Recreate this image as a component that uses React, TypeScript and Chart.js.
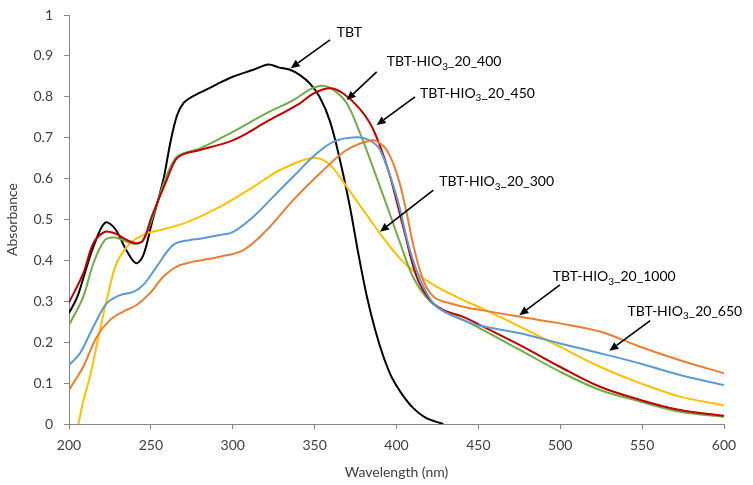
import React, { useEffect, useRef } from "react";
import { Chart, registerables } from "chart.js";
Chart.register(...registerables);

// ---- Data (wavelength nm / absorbance) ----
const tbtNm = [200, 205, 209, 215, 222, 228, 235, 241, 245.4, 250.5, 257.6, 262, 266, 270, 275, 280, 290, 300, 312.6, 321.7, 328, 335, 341, 347, 353, 359.4, 365.5, 371.6, 377, 382, 387, 392, 397, 403, 410, 418, 428.6];
const tbtAbs = [0.271, 0.31, 0.36, 0.434, 0.492, 0.478, 0.425, 0.393, 0.413, 0.49, 0.597, 0.69, 0.755, 0.785, 0.8, 0.81, 0.83, 0.849, 0.866, 0.879, 0.872, 0.866, 0.853, 0.833, 0.8, 0.74, 0.645, 0.53, 0.41, 0.31, 0.23, 0.165, 0.115, 0.075, 0.04, 0.015, 0];

const s300Nm = [205.7, 209, 212.8, 218.9, 224, 229.1, 237.3, 247.5, 255.6, 269.8, 280, 292.2, 296.3, 312.6, 328.9, 347.2, 355.3, 361.4, 369.6, 379.7, 384, 390, 402, 412.3, 424.5, 440.8, 451, 475.4, 499.8, 524.3, 548.7, 573.1, 600];
const s300Abs = [0, 0.06, 0.116, 0.23, 0.32, 0.393, 0.442, 0.466, 0.474, 0.49, 0.507, 0.531, 0.54, 0.58, 0.621, 0.65, 0.645, 0.625, 0.58, 0.523, 0.499, 0.465, 0.405, 0.368, 0.336, 0.303, 0.285, 0.238, 0.189, 0.14, 0.1, 0.067, 0.046];

const s400Nm = [200, 208.7, 214.9, 222, 228, 235.2, 241, 245.4, 250.5, 258.6, 265, 270, 280, 300.3, 320.7, 337, 347.2, 354.3, 361.4, 369.6, 377.7, 384, 394, 402, 410, 418, 427, 441, 451, 475.4, 499.8, 524.3, 548.7, 573.1, 600];
const s400Abs = [0.242, 0.311, 0.393, 0.45, 0.456, 0.446, 0.44, 0.45, 0.499, 0.597, 0.65, 0.662, 0.674, 0.715, 0.76, 0.792, 0.818, 0.827, 0.817, 0.784, 0.711, 0.645, 0.535, 0.445, 0.36, 0.311, 0.28, 0.254, 0.234, 0.181, 0.128, 0.083, 0.055, 0.03, 0.018];

const s450Nm = [200, 208.7, 214.9, 222, 228, 235.2, 241, 245.4, 250.5, 259.7, 265, 270, 280, 300.3, 320.7, 341, 349.2, 359.4, 367.5, 377.7, 385.8, 395, 404.2, 412.3, 420.5, 428.6, 440.8, 451, 475.4, 499.8, 524.3, 548.7, 573.1, 600];
const s450Abs = [0.297, 0.368, 0.442, 0.47, 0.466, 0.45, 0.442, 0.45, 0.507, 0.597, 0.645, 0.66, 0.67, 0.694, 0.739, 0.784, 0.808, 0.821, 0.808, 0.77, 0.72, 0.62, 0.48, 0.36, 0.303, 0.279, 0.262, 0.242, 0.193, 0.14, 0.091, 0.059, 0.034, 0.02];

const s650Nm = [200, 206.7, 214.9, 223, 231.1, 239.3, 245.4, 253.6, 263.7, 273.9, 280, 292.2, 300.3, 312.6, 324.8, 337, 349.2, 361.4, 375.7, 383.8, 390, 400.1, 408.2, 416.4, 424.5, 440.8, 451, 475.4, 499.8, 524.3, 548.7, 573.1, 600];
const s650Abs = [0.144, 0.173, 0.238, 0.295, 0.315, 0.323, 0.34, 0.385, 0.438, 0.45, 0.453, 0.462, 0.47, 0.507, 0.556, 0.605, 0.654, 0.69, 0.701, 0.693, 0.67, 0.556, 0.425, 0.336, 0.287, 0.254, 0.24, 0.222, 0.197, 0.173, 0.148, 0.12, 0.095];

const s1000Nm = [200, 208.7, 216.9, 225, 233.2, 241.3, 249.5, 257.6, 265.8, 275.9, 280, 292.2, 306.5, 320.7, 337, 353.3, 369.6, 385, 390, 394, 398, 402, 406, 410, 414, 418, 423, 428, 444.9, 451, 475.4, 499.8, 524.3, 548.7, 573.1, 600];
const s1000Abs = [0.083, 0.14, 0.213, 0.254, 0.275, 0.291, 0.32, 0.36, 0.385, 0.397, 0.4, 0.409, 0.425, 0.474, 0.548, 0.613, 0.67, 0.694, 0.686, 0.67, 0.637, 0.588, 0.52, 0.442, 0.38, 0.336, 0.31, 0.3, 0.283, 0.279, 0.262, 0.246, 0.226, 0.189, 0.156, 0.124];

const xTicks = [200, 250, 300, 350, 400, 450, 500, 550, 600];
const yTicks = [0, 0.1, 0.2, 0.3, 0.4, 0.5, 0.6, 0.7, 0.8, 0.9, 1];

// label text pieces: main, subscript, rest
const labelMain = ["TBT", "TBT-HIO", "TBT-HIO", "TBT-HIO", "TBT-HIO", "TBT-HIO"];
const labelSub = ["", "3", "3", "3", "3", "3"];
const labelRest = ["", "_20_400", "_20_450", "_20_300", "_20_1000", "_20_650"];
// annotation anchors in data units: text left/center, arrow start, arrow tip
const labelPos = [
  { tx: 363.5, ty: 0.958, x1: 359.4, y1: 0.939, x2: 335.4, y2: 0.87 },
  { tx: 394, ty: 0.886, x1: 387.9, y1: 0.861, x2: 369.6, y2: 0.792 },
  { tx: 414.4, ty: 0.809, x1: 411.3, y1: 0.8, x2: 387.9, y2: 0.731 },
  { tx: 426.1, ty: 0.592, x1: 422.5, y1: 0.572, x2: 389.9, y2: 0.47 },
  { tx: 495.4, ty: 0.36, x1: 499.8, y1: 0.34, x2: 475, y2: 0.266 },
  { tx: 541, ty: 0.276, x1: 554.9, y1: 0.253, x2: 530, y2: 0.179 },
];

const FONT = "Lato, 'Open Sans', sans-serif";

const zip = (xs: number[], ys: number[]) => xs.map((x, i) => ({ x, y: ys[i] }));

const arrowPlugin = {
  id: "arrowLabels",
  afterDatasetsDraw(chart: any) {
    const { ctx, scales } = chart;
    const xs = scales.x;
    const ys = scales.y;
    ctx.save();
    for (let i = 0; i < labelPos.length; i++) {
      const p = labelPos[i];
      const x1 = xs.getPixelForValue(p.x1);
      const y1 = ys.getPixelForValue(p.y1);
      const x2 = xs.getPixelForValue(p.x2);
      const y2 = ys.getPixelForValue(p.y2);
      const ang = Math.atan2(y2 - y1, x2 - x1);
      const hl = 9;
      const hw = 4;
      const bx = x2 - hl * Math.cos(ang);
      const by = y2 - hl * Math.sin(ang);
      ctx.strokeStyle = "#000";
      ctx.lineWidth = 1.6;
      ctx.beginPath();
      ctx.moveTo(x1, y1);
      ctx.lineTo(bx, by);
      ctx.stroke();
      ctx.fillStyle = "#000";
      ctx.beginPath();
      ctx.moveTo(x2, y2);
      ctx.lineTo(bx + hw * Math.sin(ang), by - hw * Math.cos(ang));
      ctx.lineTo(bx - hw * Math.sin(ang), by + hw * Math.cos(ang));
      ctx.closePath();
      ctx.fill();

      // text
      let tx = xs.getPixelForValue(p.tx);
      const ty = ys.getPixelForValue(p.ty);
      ctx.fillStyle = "#000";
      ctx.textBaseline = "middle";
      ctx.textAlign = "left";
      ctx.font = `14px ${FONT}`;
      ctx.fillText(labelMain[i], tx, ty);
      tx += ctx.measureText(labelMain[i]).width;
      if (labelSub[i]) {
        ctx.font = `10px ${FONT}`;
        ctx.fillText(labelSub[i], tx, ty + 5);
        tx += ctx.measureText(labelSub[i]).width;
      }
      if (labelRest[i]) {
        ctx.font = `14px ${FONT}`;
        ctx.fillText(labelRest[i], tx, ty);
      }
    }
    ctx.restore();
  },
};

export default function App() {
  const ref = useRef<HTMLCanvasElement>(null);
  useEffect(() => {
    if (!ref.current) return;
    const mk = (label: string, xs: number[], ys: number[], color: string, order: number) => ({
      label,
      data: zip(xs, ys),
      borderColor: color,
      backgroundColor: color,
      borderWidth: 2,
      pointRadius: 0,
      fill: false,
      tension: 0.35,
      order,
    });
    const chart = new Chart(ref.current, {
      type: "line",
      data: {
        datasets: [
          mk("TBT", tbtNm, tbtAbs, "#000000", 6),
          mk("TBT-HIO3_20_300", s300Nm, s300Abs, "#FFC000", 5),
          mk("TBT-HIO3_20_400", s400Nm, s400Abs, "#70AD47", 4),
          mk("TBT-HIO3_20_450", s450Nm, s450Abs, "#C00000", 3),
          mk("TBT-HIO3_20_650", s650Nm, s650Abs, "#5B9BD5", 2),
          mk("TBT-HIO3_20_1000", s1000Nm, s1000Abs, "#ED7D31", 1),
        ],
      },
      options: {
        animation: false,
        responsive: false,
        devicePixelRatio: 1,
        layout: { padding: { top: 15, right: 29, left: 0, bottom: 0 } },
        plugins: { legend: { display: false }, tooltip: { enabled: false } },
        scales: {
          x: {
            type: "linear",
            min: 200,
            max: 600,
            afterBuildTicks: (s: any) => { s.ticks = xTicks.map((v) => ({ value: v })); },
            afterFit: (s: any) => { s.height = 61; s.paddingLeft = 0; s.paddingRight = 0; },
            ticks: { color: "#404040", font: { family: FONT, size: 14 }, padding: 8, maxRotation: 0, autoSkip: false },
            border: { color: "#868686", width: 1 },
            grid: { drawOnChartArea: false, drawTicks: true, tickLength: 5, color: "#868686" },
            title: { display: true, text: "Wavelength (nm)", color: "#404040", font: { family: FONT, size: 14 } },
          },
          y: {
            type: "linear",
            min: 0,
            max: 1,
            afterBuildTicks: (s: any) => { s.ticks = yTicks.map((v) => ({ value: v })); },
            afterFit: (s: any) => { s.width = 69; s.paddingTop = 0; s.paddingBottom = 0; },
            ticks: {
              color: "#404040",
              font: { family: FONT, size: 14 },
              padding: 11,
              autoSkip: false,
              callback: (v: any) => String(Number(Number(v).toFixed(1))),
            },
            border: { color: "#868686", width: 1 },
            grid: { drawOnChartArea: false, drawTicks: true, tickLength: 5, color: "#868686" },
            title: { display: true, text: "Absorbance", color: "#404040", font: { family: FONT, size: 14 } },
          },
        },
      },
      plugins: [arrowPlugin],
    });
    return () => chart.destroy();
  }, []);
  return (
    <div style={{ position: "absolute", left: 0, top: 0, width: 753, height: 485, background: "#fff" }}>
      <canvas ref={ref} width={753} height={485} style={{ display: "block" }} />
    </div>
  );
}
